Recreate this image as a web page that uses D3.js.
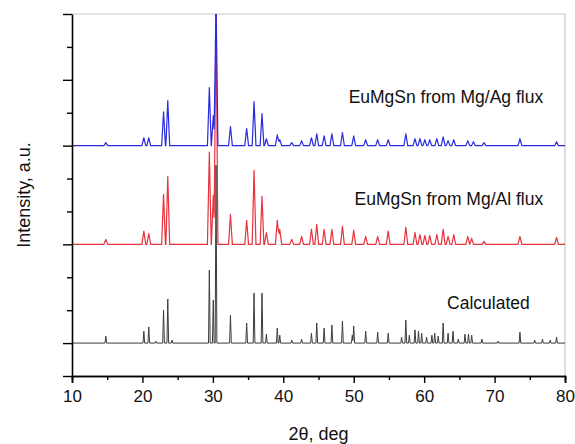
<!DOCTYPE html>
<html>
<head>
<meta charset="utf-8">
<script src="https://cdn.jsdelivr.net/npm/d3@7"></script>
<style>
  html, body { margin: 0; padding: 0; background: #fff; }
  svg { display: block; font-family: "Liberation Sans", Arial, sans-serif; }
</style>
</head>
<body>
<svg id="chart" width="575" height="444"></svg>
<script>
// Powder diffraction patterns of EuMgSn: peak positions (2θ, deg) and heights (a.u.)
const calcPos = [14.8, 20.2, 20.9, 21.9, 23.0, 23.6, 24.2, 29.5, 30.06, 30.45, 32.5, 34.8, 35.85, 36.98, 37.6,
  39.15, 39.5, 41.2, 42.6, 44.0, 44.75, 45.8, 46.9, 48.4, 49.8, 50.0, 51.7, 53.4, 54.9, 56.8, 57.4, 57.9,
  58.7, 59.2, 59.65, 60.35, 61.1, 61.5, 62.0, 62.7, 63.4, 64.1, 64.85, 65.8, 66.3, 66.75, 68.2, 70.5,
  73.6, 75.7, 76.8, 77.9, 78.8];
const calcInt = [0.21, 0.36, 0.49, 0.06, 1.00, 1.34, 0.09, 2.22, 1.31, 5.41, 0.85, 0.61, 1.52, 1.52, 0.27,
  0.46, 0.24, 0.09, 0.12, 0.30, 0.61, 0.46, 0.55, 0.67, 0.24, 0.52, 0.36, 0.33, 0.30, 0.18, 0.70, 0.24,
  0.40, 0.36, 0.30, 0.18, 0.24, 0.30, 0.21, 0.61, 0.30, 0.36, 0.12, 0.27, 0.27, 0.24, 0.12, 0.06,
  0.33, 0.09, 0.12, 0.09, 0.18];

const alPos = [14.8, 20.2, 20.9, 23.0, 23.6, 29.5, 30.06, 30.45, 32.5, 34.8, 35.85, 36.98, 37.6, 39.15, 39.5,
  41.2, 42.6, 44.0, 44.75, 45.8, 46.9, 48.4, 50.0, 51.7, 53.4, 54.9, 57.4, 58.7, 59.4, 60.1, 60.8, 61.8,
  62.7, 63.4, 64.2, 66.2, 66.75, 68.5, 73.6, 78.8];
const alInt = [0.15, 0.40, 0.33, 1.52, 2.07, 2.80, 1.49, 7.20, 0.91, 0.73, 2.25, 1.46, 0.36, 0.73, 0.46,
  0.15, 0.24, 0.46, 0.61, 0.46, 0.46, 0.55, 0.43, 0.24, 0.24, 0.40, 0.52, 0.36, 0.30, 0.27, 0.27, 0.30,
  0.46, 0.24, 0.30, 0.24, 0.18, 0.09, 0.24, 0.21];

const agPos = [14.8, 20.2, 20.9, 23.0, 23.6, 29.5, 30.06, 30.45, 32.5, 34.8, 35.85, 36.98, 37.6, 39.15, 39.5,
  41.2, 42.6, 44.0, 44.75, 45.8, 46.9, 48.4, 50.0, 51.7, 53.4, 54.9, 57.4, 58.7, 59.4, 60.1, 60.8, 61.8,
  62.7, 63.4, 64.2, 66.2, 67.0, 68.5, 73.6, 78.8];
const agInt = [0.09, 0.24, 0.24, 1.03, 1.37, 1.76, 0.91, 4.50, 0.58, 0.52, 1.34, 0.97, 0.21, 0.33, 0.18,
  0.09, 0.15, 0.24, 0.36, 0.30, 0.36, 0.40, 0.30, 0.18, 0.18, 0.18, 0.36, 0.21, 0.21, 0.18, 0.18, 0.21,
  0.27, 0.15, 0.18, 0.15, 0.12, 0.09, 0.21, 0.12];

// Vertical offsets of the stacked patterns and their labels
const traceNames = ["Calculated", "EuMgSn from Mg/Al flux", "EuMgSn from Mg/Ag flux"];
const traceOffsets = [1, 4, 7];

const xTicks = [10, 20, 30, 40, 50, 60, 70, 80];
const xMinorTicks = [15, 25, 35, 45, 55, 65, 75];
const yTicks = [0, 1, 2, 3, 4, 5, 6, 7, 8, 9, 10, 11];
const yMajorTicks = [0, 1, 4, 7, 9, 11];

const svg = d3.select("#chart");
const margin = { left: 72, right: 10, top: 14, bottom: 68 };
const W = 575, H = 444;
const x = d3.scaleLinear().domain([10, 80]).range([margin.left, W - margin.right]);
const y = d3.scaleLinear().domain([0, 11]).range([H - margin.bottom, margin.top]);

svg.append("defs").append("clipPath").attr("id", "plotClip")
  .append("rect")
  .attr("x", x(10)).attr("y", y(11))
  .attr("width", x(80) - x(10)).attr("height", y(0) - y(11));

// Light frame on top and right
svg.append("path")
  .attr("d", `M${x(10)},${y(11)}H${x(80)}V${y(0)}`)
  .attr("fill", "none").attr("stroke", "#c9c9c9").attr("stroke-width", 1.2);

// Piecewise-linear profile: each reflection is a narrow triangle on a flat baseline
function profile(pos, inten, hw) {
  const xs = new Set([10, 80]);
  pos.forEach(p => { xs.add(p - hw); xs.add(p); xs.add(p + hw); });
  return [...xs].sort((a, b) => a - b).map(t =>
    [t, d3.sum(pos, (p, i) => Math.max(0, 1 - Math.abs(t - p) / hw) * inten[i])]);
}

const line = d3.line().x(d => x(d[0])).y(d => y(d[1]));
const plot = svg.append("g").attr("clip-path", "url(#plotClip)");

const traces = [
  { pos: alPos, inten: alInt, hw: 0.27, off: traceOffsets[1], color: "#e8323c", w: 1.2 },
  { pos: agPos, inten: agInt, hw: 0.27, off: traceOffsets[2], color: "#2a2ae0", w: 1.2 },
  { pos: calcPos, inten: calcInt, hw: 0.12, off: traceOffsets[0], color: "#3c3c3c", w: 1.0 }
];
traces.forEach(t => {
  const pts = profile(t.pos, t.inten, t.hw).map(d => [d[0], d[1] + t.off]);
  plot.append("path")
    .attr("d", line(pts))
    .attr("fill", "none")
    .attr("stroke", t.color)
    .attr("stroke-width", t.w)
    .attr("stroke-linejoin", "round");
});

// Axes
const xAxis = svg.append("g").attr("transform", `translate(0,${y(0)})`);
xAxis.call(d3.axisBottom(x).tickValues(xMinorTicks).tickSize(4).tickFormat(""));
xAxis.call(g => g.append("g").call(d3.axisBottom(x).tickValues(xTicks).tickSize(7).tickPadding(7).tickFormat(d3.format("d"))));
xAxis.selectAll(".domain").attr("stroke", "#000").attr("stroke-width", 1.6);
xAxis.selectAll(".tick line").attr("stroke", "#000").attr("stroke-width", 1.4);
xAxis.selectAll(".tick text").attr("font-size", 17).attr("fill", "#111")
  .attr("font-family", "'Liberation Sans', Arial, sans-serif");

const yAxis = svg.append("g").attr("transform", `translate(${x(10)},0)`);
yAxis.call(d3.axisLeft(y).tickValues(yTicks).tickSize(0).tickFormat(""));
yAxis.selectAll(".tick line")
  .attr("x2", d => yMajorTicks.includes(d) ? -9 : -5)
  .attr("stroke", "#000").attr("stroke-width", 1.4);
yAxis.selectAll(".domain").attr("stroke", "#000").attr("stroke-width", 1.6);

// Axis titles
svg.append("text")
  .attr("x", (x(10) + x(80)) / 2).attr("y", 440)
  .attr("text-anchor", "middle").attr("font-size", 18).attr("fill", "#111")
  .text("2θ, deg");
svg.append("text")
  .attr("transform", `translate(30,${(y(0) + y(11)) / 2}) rotate(-90)`)
  .attr("text-anchor", "middle").attr("font-size", 18).attr("fill", "#111")
  .text("Intensity, a.u.");

// Pattern labels
const labelSpec = [
  { name: traceNames[2], xv: 76.9, yv: traceOffsets[2] + 1.3, anchor: "end" },
  { name: traceNames[1], xv: 76.9, yv: traceOffsets[1] + 1.2, anchor: "end" },
  { name: traceNames[0], xv: 75.0, yv: traceOffsets[0] + 1.05, anchor: "end" }
];
svg.selectAll("text.lbl").data(labelSpec).join("text")
  .attr("class", "lbl")
  .attr("x", d => x(d.xv)).attr("y", d => y(d.yv))
  .attr("text-anchor", d => d.anchor)
  .attr("font-size", 17.5).attr("fill", "#111")
  .text(d => d.name);
</script>
</body>
</html>
